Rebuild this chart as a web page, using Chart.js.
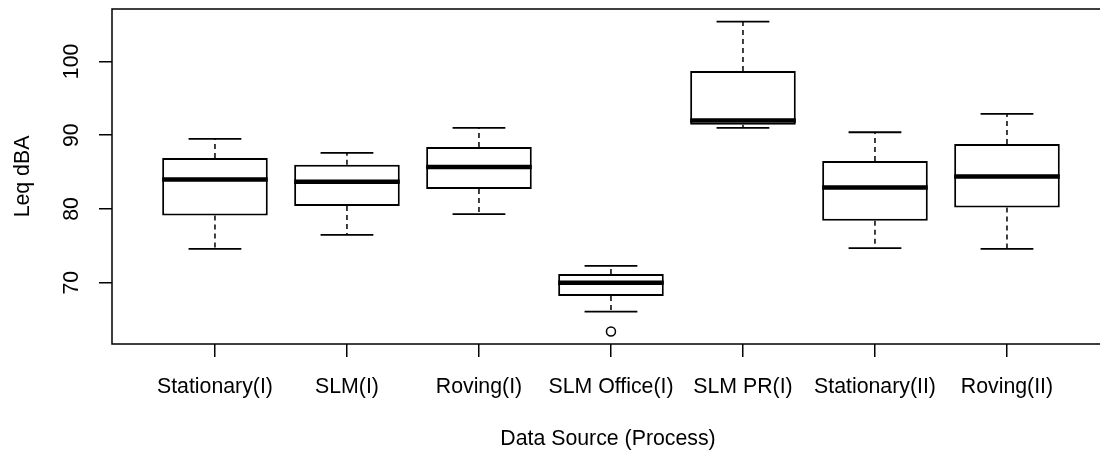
<!DOCTYPE html>
<html>
<head>
<meta charset="utf-8">
<script src="https://cdn.jsdelivr.net/npm/chart.js@4/dist/chart.umd.min.js"></script>
<style>
  html, body { margin: 0; padding: 0; background: #fff; overflow: hidden; width: 1100px; height: 452px; }
  #wrap { width: 1110px; height: 452px; }
</style>
</head>
<body>
<div id="wrap"><canvas id="chart" width="1110" height="452"></canvas></div>
<script>
const categories = ["Stationary(I)", "SLM(I)", "Roving(I)", "SLM Office(I)", "SLM PR(I)", "Stationary(II)", "Roving(II)"];
const lowerWhisker = [74.6, 76.5, 79.3, 66.1, 91.0, 74.7, 74.6];
const q1 = [79.1, 80.4, 82.7, 68.2, 91.4, 78.4, 80.2];
const median = [84.0, 83.7, 85.7, 70.0, 92.0, 82.9, 84.4];
const q3 = [86.9, 86.0, 88.4, 71.2, 98.7, 86.5, 88.8];
const upperWhisker = [89.5, 87.6, 91.0, 72.3, 105.4, 90.4, 92.9];
const outliers = [[], [], [], [63.4], [], [], []];
const yTicks = [70, 80, 90, 100];

const FONT = "'Liberation Sans', Arial, sans-serif";

// build line segments separated by gaps
const medianPts = [], whiskerPts = [], capPts = [], outlierPts = [];
categories.forEach((c, i) => {
  const x = i + 1;
  medianPts.push({ x: x - 0.4, y: median[i] }, { x: x + 0.4, y: median[i] }, { x: x + 0.45, y: null });
  whiskerPts.push({ x: x, y: q3[i] }, { x: x, y: upperWhisker[i] }, { x: x, y: null },
                  { x: x, y: q1[i] }, { x: x, y: lowerWhisker[i] }, { x: x, y: null });
  capPts.push({ x: x - 0.2, y: upperWhisker[i] }, { x: x + 0.2, y: upperWhisker[i] }, { x: x + 0.2, y: null },
              { x: x - 0.2, y: lowerWhisker[i] }, { x: x + 0.2, y: lowerWhisker[i] }, { x: x + 0.25, y: null });
  outliers[i].forEach(v => outlierPts.push({ x: x, y: v }));
});

const framePlugin = {
  id: "frame",
  afterDraw(chart) {
    const { ctx, chartArea: a, scales } = chart;
    ctx.save();
    ctx.strokeStyle = "#000";
    ctx.lineWidth = 1.5;
    ctx.strokeRect(a.left, a.top, a.right - a.left, a.bottom - a.top);
    // rotated y tick labels, R style
    ctx.fillStyle = "#000";
    ctx.font = "21.3px " + FONT;
    ctx.textAlign = "center";
    ctx.textBaseline = "middle";
    scales.y.ticks.forEach(t => {
      const py = scales.y.getPixelForValue(t.value);
      ctx.save();
      ctx.translate(72, py);
      ctx.rotate(-Math.PI / 2);
      ctx.fillText(String(t.value), 0, 0);
      ctx.restore();
    });
    ctx.restore();
  }
};

new Chart(document.getElementById("chart"), {
  type: "bar",
  data: {
    datasets: [
      {
        type: "scatter",
        data: outlierPts,
        pointRadius: 4.5,
        pointBackgroundColor: "#fff",
        pointBorderColor: "#000",
        pointBorderWidth: 1.5,
        order: 0
      },
      {
        type: "line",
        data: medianPts,
        borderColor: "#000",
        borderWidth: 4.5,
        pointRadius: 0,
        spanGaps: false,
        order: 1
      },
      {
        type: "bar",
        data: categories.map((c, i) => ({ x: i + 1, y: [q1[i], q3[i]] })),
        backgroundColor: "#fff",
        borderColor: "#000",
        borderWidth: 2,
        borderSkipped: false,
        barPercentage: 0.8,
        categoryPercentage: 1,
        grouped: false,
        order: 2
      },
      {
        type: "line",
        data: whiskerPts,
        borderColor: "#000",
        borderWidth: 1.5,
        borderDash: [5, 4],
        pointRadius: 0,
        spanGaps: false,
        order: 3
      },
      {
        type: "line",
        data: capPts,
        borderColor: "#000",
        borderWidth: 1.8,
        pointRadius: 0,
        spanGaps: false,
        order: 3
      }
    ]
  },
  options: {
    responsive: false,
    animation: false,
    devicePixelRatio: 1,
    layout: { padding: { top: 9, left: 0, right: 0, bottom: 0 } },
    plugins: { legend: { display: false }, tooltip: { enabled: false } },
    events: [],
    scales: {
      x: {
        type: "linear",
        offset: false,
        min: 0.22,
        max: 7.735,
        afterFit: s => { s.height = 108; s.paddingLeft = 0; s.paddingRight = 0; },
        afterBuildTicks: s => { s.ticks = categories.map((c, i) => ({ value: i + 1 })); },
        grid: { offset: false, drawOnChartArea: false, drawTicks: true, tickLength: 13, color: "#000", lineWidth: 1.5 },
        border: { display: false },
        ticks: {
          autoSkip: false,
          maxRotation: 0,
          minRotation: 0,
          padding: 17,
          color: "#000",
          font: { family: FONT, size: 21.3 },
          callback: v => categories[v - 1]
        },
        title: {
          display: true,
          text: "Data Source (Process)",
          color: "#000",
          font: { family: FONT, size: 21.3 },
          padding: { top: 0, bottom: 0 }
        }
      },
      y: {
        min: 61.7,
        max: 107.1,
        afterFit: s => { s.width = 112; },
        afterBuildTicks: s => { s.ticks = yTicks.map(v => ({ value: v })); },
        grid: { drawOnChartArea: false, drawTicks: true, tickLength: 13, color: "#000", lineWidth: 1.5 },
        border: { display: false },
        ticks: { display: false },
        title: {
          display: true,
          text: "Leq dBA",
          color: "#000",
          font: { family: FONT, size: 21.3 },
          padding: { top: 10, bottom: 0 }
        }
      }
    }
  },
  plugins: [framePlugin]
});
</script>
</body>
</html>
